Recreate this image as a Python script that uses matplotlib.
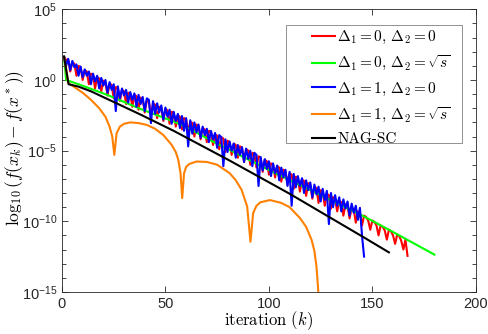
import numpy as np
import matplotlib
matplotlib.use("Agg")
import matplotlib.pyplot as plt
from matplotlib.patches import Rectangle
from matplotlib.ticker import FixedLocator, NullFormatter

# === Dados (log10 do erro) ===
log_red = [1.65, 1.4, 1.45, 0.6, 1.25, 1.15, 0.3, 1.0, 0.9, 0.0,
           0.7, 0.6, -0.3, 0.45, 0.35, -0.6, 0.2, 0.1, -0.8, -0.05,
           -0.15, -1.1, -0.25, -0.35, -1.3, -0.5, -0.6, -1.5, -0.7, -0.8,
           -1.7, -0.9, -1.0, -1.9, -1.05, -1.15, -2.1, -1.25, -1.35, -2.3,
           -1.45, -1.55, -2.5, -1.65, -1.75, -2.7, -1.9, -2.0, -2.9, -2.05,
           -2.15, -3.1, -2.25, -2.35, -3.3, -2.5, -2.6, -3.5, -2.7, -2.8,
           -3.7, -2.95, -3.05, -4.0, -3.15, -3.25, -4.2, -3.4, -3.5, -4.4,
           -3.6, -3.7, -4.6, -3.85, -3.95, -4.9, -4.05, -4.15, -5.1, -4.3,
           -4.4, -5.3, -4.5, -4.6, -5.5, -4.7, -4.8, -5.8, -4.9, -5.0,
           -6.0, -5.15, -5.25, -6.2, -5.4, -5.5, -6.5, -5.65, -5.75, -6.7,
           -5.9, -6.0, -6.9, -6.1, -6.2, -7.2, -6.35, -6.45, -7.4, -6.6,
           -6.7, -7.7, -6.85, -6.95, -7.9, -7.05, -7.15, -8.2, -7.3, -7.4,
           -8.4, -7.55, -7.65, -8.7, -7.8, -7.9, -8.9, -8.05, -8.15, -9.1,
           -8.3, -8.4, -9.3, -8.55, -8.65, -9.6, -8.8, -8.9, -9.8, -9.05,
           -9.15, -10.1, -9.3, -9.4, -10.3, -9.6, -9.7, -9.95, -10.6, -9.95,
           -10.05, -10.3, -11.0, -10.3, -10.4, -10.65, -11.3, -10.6, -10.7, -11.0,
           -11.6, -10.95, -11.05, -11.4, -12.0, -11.3, -12.45]
k_red = np.arange(1, len(log_red) + 1)

k_green = [1, 2, 8, 22, 38, 54, 62, 73, 89, 104.5, 118, 146, 158, 180]
log_green = [1.65, 0.0, -0.30, -1.06, -2.05, -2.94, -3.48, -4.36, -5.55, -6.7,
             -7.65, -9.66, -10.6, -12.36]

log_blue = [1.65, 1.0, 1.5, 0.7, 1.35, 0.9, 1.1, 0.3, 0.95, 0.2,
            0.75, 0.3, 0.6, -0.3, 0.45, -0.1, 0.3, -0.6, 0.15, -0.4,
            0.0, -0.9, -0.15, -0.7, -0.3, -2.2, -0.45, -1.3, -0.6, -1.1,
            -0.7, -1.6, -0.85, -1.4, -0.95, -1.9, -1.05, -1.7, -1.2, -2.2,
            -1.3, -1.4, -3.05, -1.5, -2.4, -1.65, -2.3, -1.8, -2.8, -1.95,
            -2.6, -2.1, -3.1, -2.25, -2.9, -2.4, -3.4, -2.55, -3.6, -2.7,
            -4.7, -2.85, -3.8, -3.0, -3.7, -3.15, -4.1, -3.3, -3.9, -3.45,
            -4.4, -3.6, -4.2, -3.75, -4.8, -3.9, -4.05, -6.1, -4.2, -5.1,
            -4.35, -5.0, -4.5, -5.5, -4.6, -5.3, -4.75, -5.8, -4.85, -5.6,
            -5.0, -6.1, -5.15, -5.3, -7.5, -5.45, -6.4, -5.6, -6.3, -5.75,
            -6.8, -5.9, -6.6, -6.05, -7.1, -6.2, -6.9, -6.35, -7.5, -6.5,
            -8.9, -6.65, -7.6, -6.8, -7.5, -6.95, -8.0, -7.1, -7.8, -7.25,
            -8.3, -7.4, -8.1, -7.55, -8.6, -7.7, -8.5, -7.85, -10.2, -8.0,
            -9.0, -8.15, -8.9, -8.3, -9.3, -8.45, -9.1, -8.6, -9.6, -8.75,
            -9.4, -8.9, -9.9, -9.05, -11.0, -12.5]
k_blue = np.arange(1, len(log_blue) + 1)

k_orange = [1, 3, 6, 10, 14, 18, 21, 23, 24.3, 25.3,
            26.4, 28, 30, 33, 37, 41, 45, 49, 53, 55, 56.2, 57.3, 58.1,
            59, 60, 61.5, 65, 70, 75, 81, 84, 86.8, 89.5, 91.1,
            92.4, 94, 96, 100.5, 106, 110, 115, 118, 120.6, 122, 123, 124]
log_orange = [1.65, -0.2, -0.5, -0.9, -1.4, -2.0, -2.6, -3.3, -4.0, -5.3,
              -3.76, -3.3, -3.1, -3.0, -3.05, -3.18, -3.45, -3.9, -4.59, -5.1, -5.65, -6.59, -8.36,
              -6.6, -6.15, -5.95, -5.77, -5.8, -6.0, -6.59, -7.1, -7.77, -8.95, -11.45,
              -9.42, -8.9, -8.65, -8.5, -8.7, -9.0, -9.77, -10.4, -11.3, -12.1, -13.2, -15.2]

k_black = [1, 3.2, 8, 14, 22, 38, 54, 81, 110, 146, 158]
log_black = [1.65, -0.30, -0.47, -0.80, -1.35, -2.45, -3.6, -5.7, -8.05, -11.15, -12.2]

nomes = [r"$\Delta_1 = 0,\, \Delta_2 = 0$",
         r"$\Delta_1 = 0,\, \Delta_2 = \sqrt{s}$",
         r"$\Delta_1 = 1,\, \Delta_2 = 0$",
         r"$\Delta_1 = 1,\, \Delta_2 = \sqrt{s}$",
         "NAG-SC"]
cores = [(1, 0, 0), (0, 1, 0), (0, 0, 1), (1, 0.5, 0), (0, 0, 0)]
ks = [k_red, k_green, k_blue, k_orange, k_black]
logs = [log_red, log_green, log_blue, log_orange, log_black]

# === Estilo ===
plt.rcParams["font.family"] = "Liberation Sans"
plt.rcParams["mathtext.fontset"] = "custom"
plt.rcParams["mathtext.rm"] = "Liberation Sans"
plt.rcParams["mathtext.it"] = "Liberation Sans:italic"

fig = plt.figure(figsize=(4.88, 3.34), dpi=100)
ax = fig.add_axes([0.127, 0.126, 0.848, 0.846])

for k, lv, cor, rotulo in zip(ks, logs, cores, nomes):
    ax.plot(k, 10.0 ** np.array(lv), color=cor, lw=1.5, label=rotulo)

ax.set_yscale("log")
ax.set_xlim(0, 200)
ax.set_ylim(1e-15, 1e5)
ax.set_xticks([0, 50, 100, 150, 200])
ax.yaxis.set_major_locator(FixedLocator([1e-15, 1e-10, 1e-5, 1e0, 1e5]))
ax.yaxis.set_minor_locator(FixedLocator([10.0 ** e for e in range(-15, 6)]))
ax.yaxis.set_minor_formatter(NullFormatter())
ax.set_yticklabels([r"$10^{-15}$", r"$10^{-10}$", r"$10^{-5}$", r"$10^{0}$", r"$10^{5}$"])

cinza = (0.15, 0.15, 0.15)
ax.tick_params(which="both", direction="in", top=True, right=True, colors=cinza,
               labelsize=10.5, length=4, width=0.6)
ax.tick_params(which="minor", length=3)
for s in ax.spines.values():
    s.set_color(cinza)
    s.set_linewidth(0.6)

ax.set_xlabel(r"$\mathrm{iteration}\ (k)$", fontsize=12, math_fontfamily="cm")
ax.xaxis.set_label_coords(0.5, -0.143)
ax.xaxis.label.set_va("bottom")
ax.set_ylabel(r"$\log_{10}(f(x_k) - f(x^*))$", fontsize=12.5, math_fontfamily="cm")
ax.yaxis.set_label_coords(-0.087, 0.51)

# === Legenda com moldura desenhada à parte ===
ax.add_patch(Rectangle((0.541, 0.527), 0.425, 0.417, transform=ax.transAxes,
                       facecolor="white", edgecolor=(0.5, 0.5, 0.5), lw=0.6, zorder=5))
leg = ax.legend(loc="upper left", bbox_to_anchor=(0.604, 0.93), frameon=False,
                fontsize=11, handlelength=1.5, handletextpad=0.15, labelspacing=0.5,
                borderpad=0, borderaxespad=0)
leg.set_zorder(6)
for t in leg.get_texts():
    t.set_math_fontfamily("cm")
leg.get_texts()[-1].set_fontfamily("cmr10")

fig.savefig("out.png", dpi=100)
